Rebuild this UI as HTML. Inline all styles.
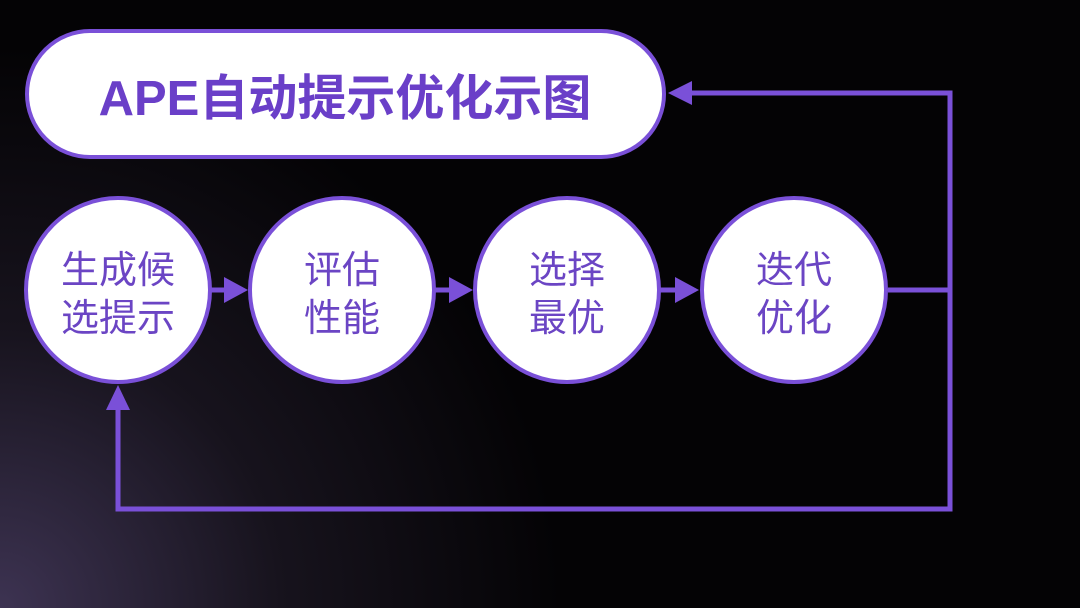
<!DOCTYPE html>
<html><head><meta charset="utf-8"><style>
html,body{margin:0;padding:0;}
body{width:1080px;height:608px;overflow:hidden;background:#050406;font-family:"Liberation Sans","Noto Sans CJK SC",sans-serif;}
</style></head><body>
<svg width="1080" height="608" viewBox="0 0 1080 608" style="position:absolute;left:0;top:0">
<defs><radialGradient id="g" cx="0" cy="608" r="560" gradientUnits="userSpaceOnUse"><stop offset="0" stop-color="#3d3352"/><stop offset="0.5" stop-color="#17131d"/><stop offset="1" stop-color="#040305"/></radialGradient></defs>
<rect width="1080" height="608" fill="url(#g)"/>
<g stroke="#7a50d8" stroke-width="5" fill="none">
<polyline points="888,290 950,290"/>
<polyline points="688,93 950,93 950,509 118,509 118,408"/>
<line x1="210" y1="290" x2="226" y2="290"/>
<line x1="435" y1="290" x2="451" y2="290"/>
<line x1="660" y1="290" x2="676" y2="290"/>
</g>
<g fill="#7a50d8">
<polygon points="668,93 692,81 692,105"/>
<polygon points="118,385 106,410 130,410"/>
<polygon points="248,290 224,277 224,303"/>
<polygon points="473,290 449,277 449,303"/>
<polygon points="699,290 675,277 675,303"/>
</g>
<rect x="27" y="31" width="637" height="126" rx="63" fill="#fff" stroke="#7a50d8" stroke-width="4"/>
<text x="345" y="115" text-anchor="middle" font-size="49" font-weight="bold" fill="#6a3fc8" font-family="Liberation Sans, Noto Sans CJK SC, sans-serif">APE自动提示优化示图</text>
<g fill="#fff" stroke="#7a50d8" stroke-width="4">
<circle cx="118" cy="290" r="92"/>
<circle cx="342" cy="290" r="92"/>
<circle cx="567" cy="290" r="92"/>
<circle cx="794" cy="290" r="92"/>
</g>
<g fill="#6b45c4" font-size="38" text-anchor="middle" font-family="Noto Sans CJK SC, sans-serif">
<text x="118" y="283">生成候</text><text x="118" y="331">选提示</text>
<text x="342" y="283">评估</text><text x="342" y="331">性能</text>
<text x="567" y="283">选择</text><text x="567" y="331">最优</text>
<text x="794" y="283">迭代</text><text x="794" y="331">优化</text>
</g>
</svg>
</body></html>
